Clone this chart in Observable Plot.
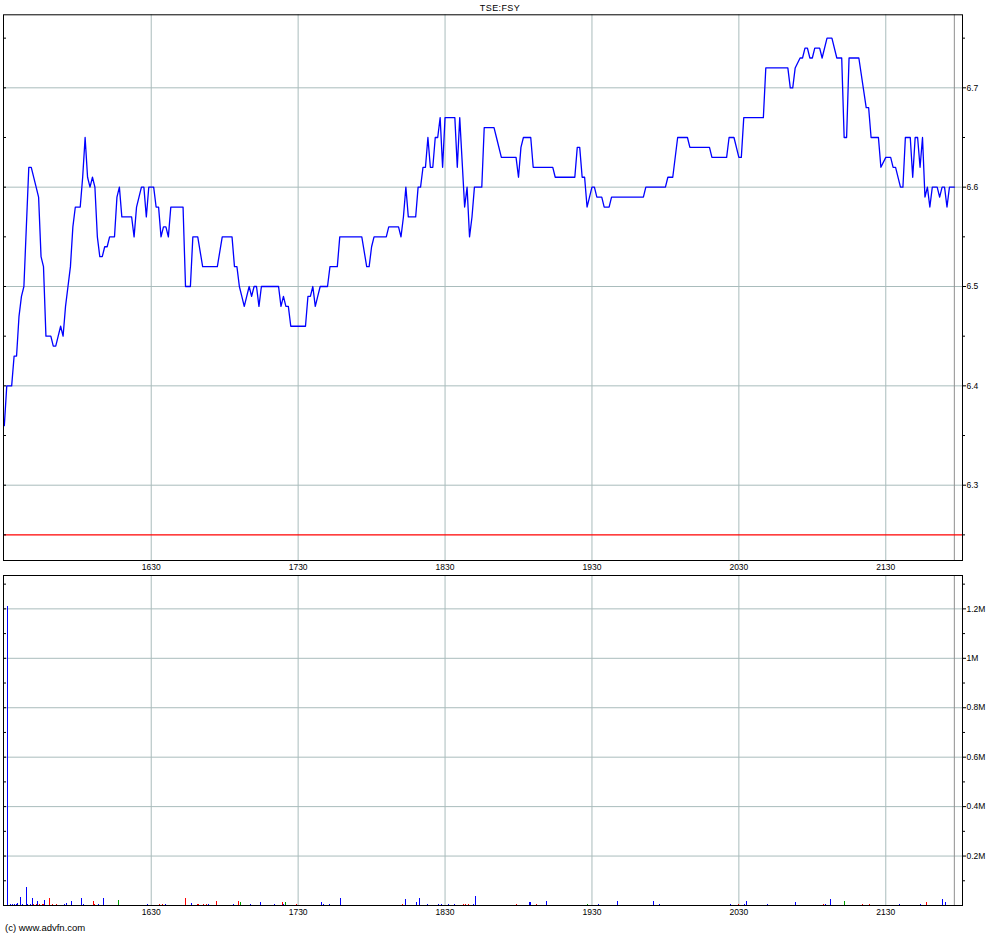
<!DOCTYPE html>
<html><head><meta charset="utf-8">
<script src="https://cdn.jsdelivr.net/npm/d3@7"></script>
<script src="https://cdn.jsdelivr.net/npm/@observablehq/plot@0.6"></script>
<style>
html,body{margin:0;padding:0;background:#fff;}
#wrap{position:relative;width:1000px;height:935px;overflow:hidden;font-family:"Liberation Sans",Arial,sans-serif;color:#000;}
#title{position:absolute;top:3px;left:0;width:1000px;text-align:center;font-size:9px;letter-spacing:0.4px;}
#price{position:absolute;left:0;top:0;}
#vol{position:absolute;left:0;top:560px;}
#credit{position:absolute;left:5px;top:922px;font-size:9.5px;}
</style></head><body>
<div id="wrap"><div id="price"></div><div id="vol"></div><div id="title">TSE:FSY</div><div id="credit">(c) www.advfn.com</div></div>
<script>
// ---- data ----
const priceTimes = ["15:30","15:31","15:33","15:34","15:35","15:36","15:37","15:38","15:40","15:41","15:43","15:44","15:45","15:46","15:47","15:49","15:50","15:51","15:52","15:53","15:54","15:55","15:56","15:57","15:58","15:59","16:01","16:02","16:03","16:04","16:05","16:06","16:07","16:08","16:09","16:10","16:11","16:12","16:13","16:15","16:16","16:17","16:18","16:22","16:23","16:24","16:25","16:26","16:27","16:28","16:29","16:31","16:32","16:33","16:34","16:35","16:36","16:37","16:38","16:43","16:44","16:46","16:47","16:49","16:51","16:57","16:59","17:03","17:04","17:05","17:06","17:07","17:08","17:09","17:10","17:11","17:12","17:13","17:14","17:15","17:22","17:23","17:24","17:25","17:26","17:27","17:33","17:34","17:35","17:36","17:37","17:38","17:39","17:42","17:43","17:46","17:47","17:56","17:58","17:59","18:00","18:01","18:06","18:07","18:11","18:12","18:13","18:14","18:15","18:18","18:19","18:20","18:21","18:22","18:23","18:24","18:25","18:26","18:27","18:28","18:29","18:30","18:34","18:35","18:36","18:38","18:39","18:40","18:41","18:42","18:45","18:46","18:50","18:51","18:53","18:59","19:00","19:01","19:02","19:05","19:06","19:14","19:15","19:23","19:24","19:25","19:26","19:27","19:28","19:29","19:30","19:31","19:32","19:34","19:35","19:37","19:38","19:51","19:52","20:00","20:01","20:03","20:05","20:09","20:10","20:18","20:19","20:25","20:26","20:28","20:30","20:31","20:32","20:40","20:41","20:50","20:51","20:52","20:53","20:55","20:56","20:57","20:58","20:59","21:00","21:01","21:03","21:04","21:06","21:08","21:10","21:12","21:13","21:14","21:15","21:19","21:22","21:23","21:24","21:27","21:28","21:30","21:32","21:33","21:34","21:36","21:37","21:38","21:40","21:41","21:42","21:43","21:44","21:45","21:46","21:47","21:48","21:49","21:51","21:52","21:53","21:54","21:55","21:56","21:58"];
const prices = [6.36,6.40,6.40,6.43,6.43,6.47,6.49,6.50,6.62,6.62,6.60,6.59,6.53,6.52,6.45,6.45,6.44,6.44,6.45,6.46,6.45,6.48,6.50,6.52,6.56,6.58,6.58,6.61,6.65,6.61,6.60,6.61,6.60,6.55,6.53,6.53,6.54,6.54,6.55,6.55,6.59,6.60,6.57,6.57,6.55,6.58,6.59,6.60,6.60,6.57,6.60,6.60,6.58,6.58,6.55,6.56,6.56,6.55,6.58,6.58,6.50,6.50,6.55,6.55,6.52,6.52,6.55,6.55,6.52,6.52,6.50,6.49,6.48,6.49,6.50,6.49,6.50,6.50,6.48,6.50,6.50,6.48,6.49,6.48,6.48,6.46,6.46,6.49,6.49,6.50,6.48,6.49,6.50,6.50,6.52,6.52,6.55,6.55,6.52,6.52,6.54,6.55,6.55,6.56,6.56,6.55,6.57,6.60,6.57,6.57,6.60,6.60,6.62,6.62,6.65,6.62,6.62,6.65,6.65,6.67,6.62,6.67,6.67,6.62,6.67,6.58,6.60,6.55,6.57,6.60,6.60,6.66,6.66,6.65,6.63,6.63,6.61,6.64,6.65,6.65,6.62,6.62,6.61,6.61,6.64,6.64,6.61,6.61,6.58,6.59,6.60,6.60,6.59,6.59,6.58,6.58,6.59,6.59,6.60,6.60,6.61,6.61,6.65,6.65,6.64,6.64,6.63,6.63,6.65,6.65,6.63,6.63,6.67,6.67,6.72,6.72,6.70,6.70,6.72,6.73,6.73,6.74,6.74,6.73,6.73,6.74,6.74,6.73,6.75,6.75,6.73,6.73,6.65,6.65,6.73,6.73,6.68,6.68,6.65,6.65,6.62,6.63,6.63,6.62,6.62,6.60,6.60,6.65,6.65,6.61,6.65,6.65,6.62,6.65,6.59,6.60,6.58,6.60,6.60,6.59,6.60,6.60,6.58,6.60,6.60];

const volTimes = ["15:31:30","15:32:30","15:33:30","15:34:00","15:35:00","15:35:30","15:36:30","15:37:30","15:39:00","15:39:30","15:40:30","15:41:30","15:42:00","15:43:00","15:43:30","15:44:30","15:45:30","15:46:00","15:46:30","15:48:30","15:49:30","15:51:30","15:54:30","15:55:30","15:57:30","16:01:30","16:02:30","16:06:30","16:07:00","16:08:30","16:10:30","16:16:30","16:28:30","16:33:30","16:34:30","16:36:00","16:44:00","16:46:30","16:49:00","16:49:30","16:51:30","16:52:30","16:53:30","16:56:30","17:03:30","17:05:30","17:06:30","17:10:30","17:14:30","17:20:30","17:23:30","17:24:00","17:25:00","17:29:30","17:39:30","17:40:30","17:43:00","17:47:30","18:12:30","18:14:00","18:18:30","18:19:30","18:23:00","18:27:30","18:28:30","18:31:30","18:34:00","18:37:30","18:38:30","18:39:30","18:41:30","18:42:30","18:59:00","19:04:30","19:05:00","19:07:30","19:11:30","19:28:00","19:32:30","19:40:30","19:55:00","19:57:30","20:26:30","20:30:00","20:32:30","20:33:00","20:41:30","20:53:00","21:04:30","21:05:30","21:07:30","21:13:00","21:20:30","21:23:30","21:35:30","21:44:00","21:46:30","21:53:00","21:54:30"];
const volumes = [1210000,4000,4000,5000,6000,7000,31000,4000,72000,4000,4000,27000,5000,4000,16000,4000,5000,4000,19000,27000,5000,4000,4000,8000,16000,27000,5000,16000,5000,4000,27000,21000,4000,4000,4000,4000,27000,8000,4000,4000,4000,4000,4000,16000,4000,16000,13000,4000,13000,4000,13000,4000,13000,6000,13000,4000,4000,29000,4000,24000,13000,29000,4000,4000,4000,4000,4000,4000,4000,4000,4000,37000,4000,13000,13000,4000,16000,4000,4000,16000,16000,4000,4000,4000,4000,16000,4000,13000,4000,4000,24000,16000,4000,4000,4000,4000,13000,24000,13000];
const volSides = ["neutral","neutral","neutral","neutral","neutral","neutral","neutral","neutral","neutral","neutral","neutral","neutral","down","down","neutral","down","down","down","neutral","down","down","down","neutral","neutral","neutral","neutral","neutral","down","down","neutral","neutral","up","neutral","down","down","neutral","down","neutral","down","down","down","down","neutral","down","neutral","down","up","neutral","neutral","neutral","down","neutral","up","down","neutral","neutral","neutral","neutral","down","neutral","neutral","neutral","neutral","neutral","neutral","neutral","neutral","down","down","down","neutral","neutral","down","neutral","neutral","down","neutral","up","neutral","neutral","neutral","neutral","neutral","down","neutral","neutral","neutral","neutral","down","neutral","neutral","up","down","down","neutral","neutral","down","neutral","neutral"];

const timeTicks = ["16:30","17:30","18:30","19:30","20:30","21:30"];
const priceTicks = [6.3,6.4,6.5,6.6,6.7];
const priceMinorTicks = [6.25,6.35,6.45,6.55,6.65,6.75];
const volTicks = [200000,400000,600000,800000,1000000,1200000];
const volMinorTicks = [100000,300000,500000,700000,900000,1100000,1300000];
const prevClose = 6.25;
const lastTime = "21:58";
const timeRange = ["15:29:40","22:01:20"];

// ---- helpers ----
const toMin = s => { const p = s.split(":").map(Number); return p[0]*60 + p[1] + (p[2]||0)/60; };
const fmtTime = m => String(Math.floor(m/60)) + String(Math.round(m%60)).padStart(2,"0");
const priceData = priceTimes.map((t,i)=>({t:toMin(t), p:prices[i]}));
const volData = volTimes.map((t,i)=>({t:toMin(t), v:volumes[i], s:volSides[i]}));
const tickMins = timeTicks.map(toMin);
const xDomain = timeRange.map(toMin);
const lastMin = toMin(lastTime);
const gridColor = "#a9bcbc";
const font = {fontFamily:"'Liberation Sans', Arial, sans-serif", fontSize:"8.5px", color:"#000", background:"transparent", overflow:"visible"};

const pricePlot = Plot.plot({
  width:1000, height:582, marginLeft:3, marginRight:38, marginTop:14.3, marginBottom:22,
  x:{domain:xDomain}, y:{domain:[6.2242,6.7735]},
  style:font,
  marks:[
    Plot.gridY(priceTicks,{stroke:gridColor, strokeOpacity:1}),
    Plot.gridX(tickMins,{stroke:gridColor, strokeOpacity:1}),
    Plot.ruleX([lastMin],{stroke:"#8f8f8f"}),
    Plot.ruleY([prevClose],{stroke:"#ff0000", strokeWidth:1.2}),
    Plot.line(priceData,{x:"t", y:"p", stroke:"#0000ff", strokeWidth:1.3}),
    Plot.axisX(tickMins,{tickSize:0, tickPadding:3, tickFormat:fmtTime, label:null}),
    Plot.axisY(priceTicks,{anchor:"right", tickSize:3, tickPadding:1, tickFormat:d=>d.toFixed(1), label:null}),
    Plot.axisY(priceMinorTicks,{anchor:"right", tickSize:2, tickFormat:()=>"", label:null}),
    Plot.axisY(priceTicks.concat(priceMinorTicks),{anchor:"left", tickSize:-3, tickFormat:()=>"", label:null}),
    Plot.frame({stroke:"#000"})
  ]
});
document.getElementById("price").appendChild(pricePlot);

const volPlot = Plot.plot({
  width:1000, height:375, marginLeft:3, marginRight:38, marginTop:15, marginBottom:30,
  x:{domain:xDomain}, y:{domain:[0,1335000]},
  color:{domain:["neutral","down","up"], range:["#0000ff","#ff0000","#00a000"]},
  style:font,
  marks:[
    Plot.gridY(volTicks,{stroke:gridColor, strokeOpacity:1}),
    Plot.gridX(tickMins,{stroke:gridColor, strokeOpacity:1}),
    Plot.ruleX([lastMin],{stroke:"#8f8f8f"}),
    Plot.ruleX(volData,{x:"t", y1:0, y2:"v", stroke:"s", strokeWidth:1, shapeRendering:"crispEdges"}),
    Plot.axisX(tickMins,{tickSize:0, tickPadding:3, tickFormat:fmtTime, label:null}),
    Plot.axisY(volTicks,{anchor:"right", tickSize:3, tickPadding:1, tickFormat:d=>(d/1e6)+"M", label:null}),
    Plot.axisY(volMinorTicks,{anchor:"right", tickSize:2, tickFormat:()=>"", label:null}),
    Plot.axisY(volTicks.concat(volMinorTicks),{anchor:"left", tickSize:-3, tickFormat:()=>"", label:null}),
    Plot.frame({stroke:"#000"})
  ]
});
document.getElementById("vol").appendChild(volPlot);
</script>
</body></html>
